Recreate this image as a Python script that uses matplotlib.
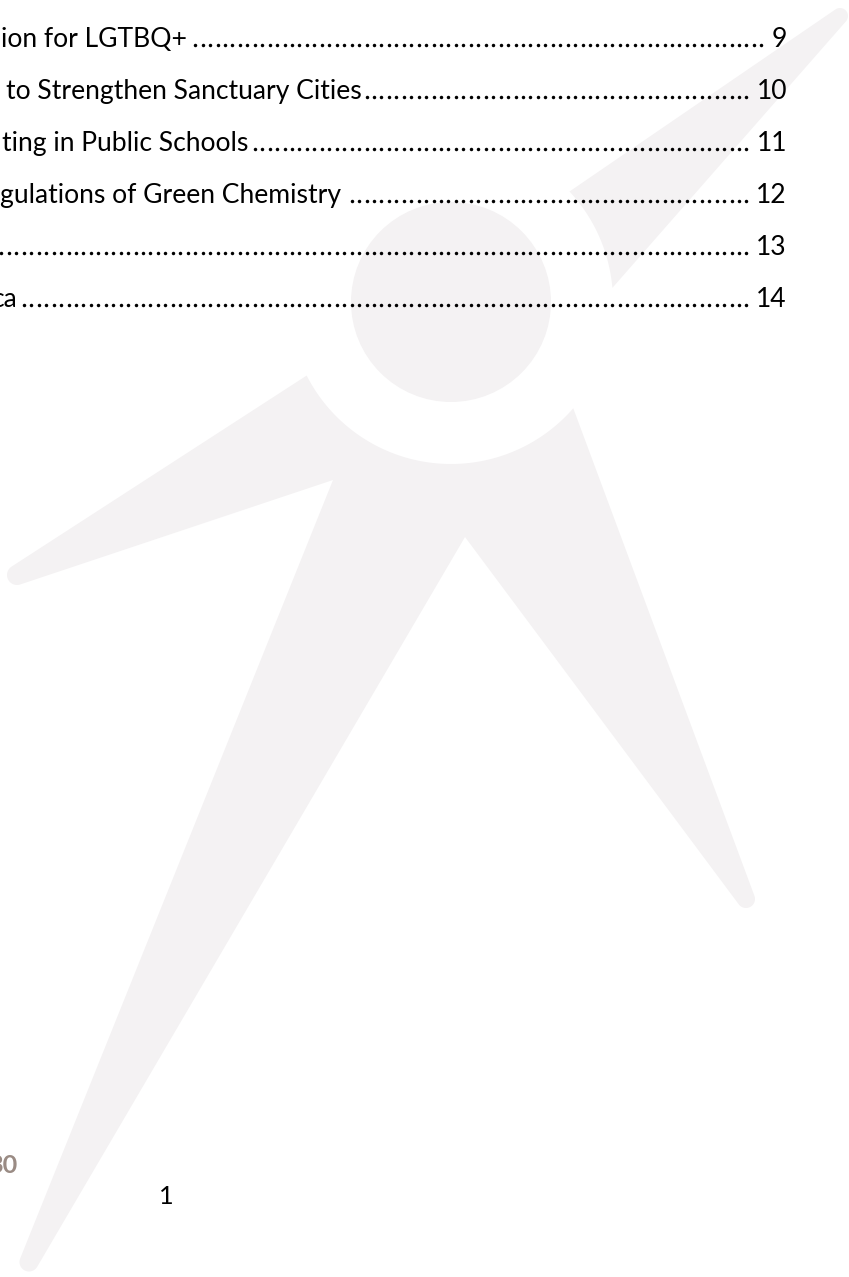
import numpy as np
import matplotlib
matplotlib.use("Agg")
import matplotlib.pyplot as plt
from matplotlib.patches import Polygon, Circle

# ---------------- content ----------------
toc_titles = ["ion for LGTBQ+",
              "to Strengthen Sanctuary Cities",
              "ting in Public Schools",
              "gulations of Green Chemistry",
              "",
              "ca"]
toc_pages = ["9", "10", "11", "12", "13", "14"]
footer_year = "30"
page_number = "1"

# ---------------- page layout ----------------
W, H = 849, 1277
FONT = ["Lato", "DejaVu Sans"]
TEXT_COLOR = "#000000"
LOGO_COLOR = "#f4f2f3"
YEAR_COLOR = "#9a8b84"

fig = plt.figure(figsize=(W / 100, H / 100), dpi=100)
ax = fig.add_axes([0, 0, 1, 1])
ax.set_xlim(0, W)
ax.set_ylim(H, 0)
ax.axis("off")


# ---------------- watermark logo ----------------
def arc(c, r, a0, a1, n=80):
    a = np.radians(np.linspace(a0, a1, n))
    return np.column_stack([c[0] + r * np.cos(a), c[1] + r * np.sin(a)])


def tip(b1, b2, c, r, n=30):
    b1, b2, c = map(np.asarray, (b1, b2, c))
    m = (b1 + b2) / 2
    u = (c - m) / np.linalg.norm(c - m)
    nrm = np.array([-u[1], u[0]])

    def tangent(p, side):
        d = p - c
        phi = np.arctan2(d[1], d[0])
        al = np.arccos(r / np.linalg.norm(d))
        for a in (phi + al, phi - al):
            if np.sign(np.dot([np.cos(a), np.sin(a)], nrm)) == side:
                return a
        return phi + al

    s1 = np.sign(np.dot(b1 - m, nrm))
    a1 = tangent(b1, s1)
    a2 = tangent(b2, -s1)
    au = np.arctan2(u[1], u[0])
    wrap = lambda x: (x + np.pi) % (2 * np.pi) - np.pi
    d1 = wrap(au - a1)
    d2 = wrap(a2 - au)
    a = np.linspace(a1, a1 + d1 + d2, n)
    return np.column_stack([c[0] + r * np.cos(a), c[1] + r * np.sin(a)])


HEAD_C = (451, 302)
HEAD_R = 100
RING_R = 162

body_arc = arc(HEAD_C, RING_R, 41, 153)
p_right = body_arc[0]
p_left = body_arc[-1]
armpit = np.array([333, 480])
crotch = np.array([465, 537])
body = np.vstack([
    body_arc,
    tip(p_left, armpit, (17, 575), 10),
    [armpit],
    tip(armpit, crotch, (29, 1262), 9.5),
    [crotch],
    tip(crotch, p_right, (746, 899), 9),
])
ax.add_patch(Polygon(body, closed=True, facecolor=LOGO_COLOR, edgecolor="none", zorder=1))

arm_arc = arc(HEAD_C, RING_R, -43, -5)
right_arm = np.vstack([arm_arc, tip(arm_arc[-1], arm_arc[0], (840, 16), 8)])
ax.add_patch(Polygon(right_arm, closed=True, facecolor=LOGO_COLOR, edgecolor="none", zorder=1))
ax.add_patch(Circle(HEAD_C, HEAD_R, facecolor=LOGO_COLOR, edgecolor="none", zorder=1))

# ---------------- table of contents ----------------
renderer = fig.canvas.get_renderer()
fit_targets = {1: 365, 2: 240, 3: 341}
measured = 0.0
for idx in fit_targets:
    probe = ax.text(0, 0, toc_titles[idx], fontsize=20, family=FONT)
    measured += probe.get_window_extent(renderer).width
    probe.remove()
FS = 20 * sum(fit_targets.values()) / measured

title_x = [1, 6, 2, 0, 0, 18]
title_ha = ["left", "left", "left", "left", "left", "right"]
base0, step = 47, 52
NUM_RIGHT = 787
DOT_STEP = 7.45

for i, (title, page) in enumerate(zip(toc_titles, toc_pages)):
    yb = base0 + i * step
    if title:
        t = ax.text(title_x[i], yb, title, ha=title_ha[i], va="baseline",
                    fontsize=FS, family=FONT, color=TEXT_COLOR, zorder=3)
        tend = t.get_window_extent(renderer).x1
    else:
        tend = -4
    n = ax.text(NUM_RIGHT, yb, page, ha="right", va="baseline",
                fontsize=FS, family=FONT, color=TEXT_COLOR, zorder=3)
    nstart = n.get_window_extent(renderer).x0
    k0 = int(np.ceil((tend + 4 - 1.5) / DOT_STEP))
    k1 = int(np.floor((nstart - 7 - 1.5) / DOT_STEP))
    xs = 1.5 + DOT_STEP * np.arange(k0, k1 + 1)
    ax.plot(xs, np.full(len(xs), yb - 1.7), ls="none", marker="o", ms=2.5,
            mec="none", mfc=TEXT_COLOR, zorder=3)

# ---------------- footer ----------------
ax.text(17, 1173, footer_year, ha="right", va="baseline", fontsize=FS * 0.95,
        family=FONT, fontweight="bold", color=YEAR_COLOR, zorder=3)
ax.text(166, 1204, page_number, ha="center", va="baseline", fontsize=FS * 0.95,
        family=FONT, color=TEXT_COLOR, zorder=3)

fig.savefig("out.png", dpi=100, facecolor="white")
